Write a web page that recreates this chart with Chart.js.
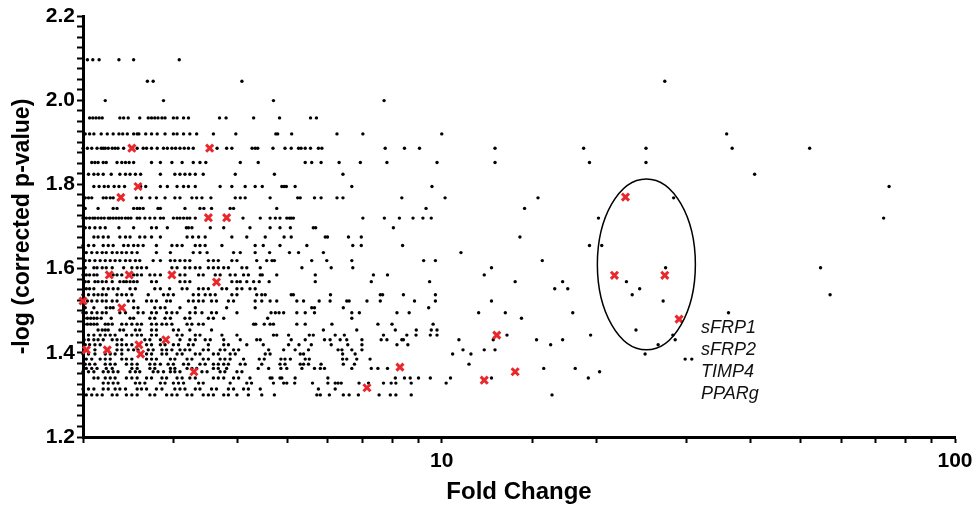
<!DOCTYPE html>
<html><head><meta charset="utf-8">
<script src="https://cdn.jsdelivr.net/npm/chart.js@4.4.1/dist/chart.umd.min.js"></script>
<style>html,body{margin:0;padding:0;background:#fff;}canvas{display:block;}</style>
</head><body>
<canvas id="c" width="973" height="509"></canvas>
<script>
// p-value levels (rows) of the black points: -log(corrected p-value)
const levels = [2.096,2.045,1.999,1.958,1.920,1.886,1.852,1.824,1.795,1.768,1.743,1.720,1.697,1.675,1.655,1.638,1.619,1.602,1.585,1.569,1.552,1.538,1.523,1.507,1.495,1.482,1.468,1.454,1.442,1.431,1.419,1.407,1.397,1.385,1.373,1.363,1.355,1.340,1.328,1.314,1.300];
// fold changes of the black points in each row
const r01=[2.04,2.09,2.15,2.35,2.51,3.08];
const r02=[2.67,2.74,4.08,27.2];
const r03=[2.21,2.87,4.70,7.72];
const r04=[2.06,2.09,2.12,2.15,2.18,2.36,2.40,2.45,2.58,2.68,2.72,2.76,2.80,2.85,2.89,3.00,3.05,3.14,3.21,3.69,3.80,4.30,4.83,5.55,5.70];
const r05=[2.02,2.06,2.10,2.17,2.23,2.29,2.35,2.39,2.44,2.51,2.55,2.57,2.65,2.72,2.79,2.89,3.00,3.05,3.14,3.23,3.33,3.59,3.97,4.75,4.79,5.10,6.25,7.02,10.0,35.9];
const r06=[2.00,2.04,2.08,2.13,2.17,2.19,2.21,2.24,2.28,2.31,2.34,2.40,2.55,2.62,2.66,2.72,2.79,2.87,2.92,2.98,3.03,3.09,3.15,3.21,3.28,3.65,3.81,3.90,4.27,4.33,4.38,4.69,4.95,5.09,5.26,5.32,5.42,5.55,5.75,5.84,7.76,8.46,9.05,12.7,18.9,25.0,36.8,52.1];
const r07=[2.08,2.11,2.14,2.19,2.22,2.33,2.38,2.42,2.46,2.51,2.72,2.83,2.98,3.12,3.28,3.38,3.47,4.05,4.39,5.42,5.58,5.82,6.31,6.94,7.82,9.79,12.7,19.4,25.0];
const r08=[2.05,2.10,2.14,2.19,2.27,2.36,2.42,2.47,2.53,2.59,2.83,3.02,3.09,3.16,3.23,3.31,3.43,3.96,4.72,6.42,40.7];
const r09=[2.10,2.15,2.20,2.24,2.30,2.35,2.41,2.59,2.65,2.83,2.92,3.05,3.14,3.21,3.31,3.70,3.90,4.14,4.33,4.47,4.88,4.93,4.98,5.18,6.68,9.57,74.4];
const r10=[2.02,2.05,2.08,2.19,2.22,2.26,2.29,2.54,2.60,2.70,2.78,2.89,3.02,3.09,3.26,3.33,3.41,3.55,3.96,4.05,4.14,4.63,5.24,5.30,5.65,5.82,6.25,6.42,8.36,10.15,15.4,28.3];
const r11=[2.02,2.14,2.29,2.33,2.51,2.55,2.58,2.62,2.80,2.83,3.16,3.38,3.44,3.56,3.87,3.93,4.77,9.32,14.5];
const r12=[2.00,2.03,2.06,2.09,2.11,2.14,2.17,2.20,2.24,2.26,2.29,2.32,2.35,2.38,2.42,2.45,2.48,2.55,2.58,2.64,2.70,2.76,2.83,2.87,3.00,3.05,3.09,3.14,3.19,3.23,3.31,4.10,4.43,4.63,4.74,4.84,4.99,5.05,5.09,5.14,7.02,7.73,8.27,8.79,9.19,9.54,20.2,72.6];
const r13=[2.02,2.06,2.11,2.16,2.21,2.35,2.51,2.72,2.78,2.92,3.18,3.21,3.26,3.54,3.76,4.23,4.63,4.84,5.07,5.62,5.68,8.05];
const r14=[2.10,2.14,2.19,2.24,2.36,2.42,2.47,2.58,2.64,2.72,2.83,3.19,3.27,3.36,3.46,3.90,4.17,4.53,4.93,5.09,5.93,5.99,6.58,6.97,14.2];
const r15=[2.00,2.05,2.10,2.19,2.24,2.29,2.40,2.45,2.51,2.56,2.62,2.78,2.98,3.05,3.12,3.31,3.38,3.46,3.73,4.33,4.49,4.84,5.46,6.71,6.97,8.39,19.4,20.5];
const r16=[2.03,2.08,2.13,2.18,2.22,2.28,2.33,2.38,2.43,2.49,2.55,2.78,2.96,3.28,3.38,3.49,3.93,4.05,4.33,4.62,5.05,5.26,5.88,10.9];
const r17=[2.02,2.06,2.11,2.16,2.21,2.26,2.31,2.36,2.42,2.47,2.53,2.58,2.74,2.83,2.96,3.02,3.09,3.16,3.23,3.51,3.59,3.67,3.90,3.99,4.36,4.56,4.67,4.72,5.58,5.97,6.68,9.22,9.72,15.7];
const r18=[2.02,2.10,2.13,2.18,2.22,2.28,2.40,2.49,2.55,2.60,2.66,2.98,3.05,3.16,3.23,3.31,3.38,3.51,3.59,3.67,3.76,3.84,4.08,4.17,4.43,5.34,6.09,6.71,12.5,27.3,54.7];
const r19=[2.00,2.03,2.06,2.10,2.13,2.29,2.33,2.38,2.51,2.55,2.60,2.70,2.76,2.83,3.09,3.16,3.36,3.43,3.62,3.70,3.87,3.96,4.11,4.20,4.43,4.47,4.77,5.67,7.36,7.84,12.1];
const r20=[2.02,2.05,2.11,2.14,2.18,2.22,2.28,2.36,2.40,2.43,2.47,2.51,2.55,2.72,2.78,3.09,3.16,3.23,3.90,3.99,4.05,4.17,4.30,4.41,4.61,5.67,7.29,9.47,13.9,17.2,22.9];
const r21=[2.03,2.06,2.10,2.19,2.24,2.29,2.34,2.47,2.53,2.76,2.83,2.95,3.12,3.19,3.36,3.43,3.51,3.73,3.81,3.99,4.08,4.23,4.33,16.6,17.6,24.3];
const r22=[2.00,2.05,2.10,2.14,2.18,2.22,2.33,2.38,2.43,2.49,2.68,2.87,2.93,3.00,3.28,3.36,3.46,3.54,3.62,3.90,3.99,4.36,4.46,4.53,5.09,5.14,6.07,7.59,7.67,8.42,9.72,23.5,57.1];
const r23=[2.04,2.08,2.13,2.18,2.22,2.28,2.33,2.45,2.51,2.66,2.72,2.78,2.91,2.96,3.21,3.28,3.36,3.43,3.56,3.64,3.84,3.93,4.33,4.46,4.63,4.77,5.22,5.38,5.77,6.06,6.53,6.60,7.15,7.59,8.85,9.72,12.5,27.0];
const r24=[2.02,2.10,2.22,2.26,2.29,2.51,2.56,2.76,2.83,2.89,3.09,3.31,3.81,4.33,5.58,5.65,6.43,9.43];
const r25=[2.00,2.03,2.08,2.13,2.18,2.22,2.36,2.42,2.56,2.62,2.72,2.78,2.91,2.98,3.05,3.23,3.31,3.41,3.56,3.64,3.99,4.65,4.74,4.82,4.92,5.22,5.42,5.65,6.68,6.91,8.18,8.64,11.8,13.3,18.0,36.2];
const r26=[2.01,2.04,2.07,2.10,2.13,2.17,2.27,2.47,2.51,2.70,2.76,2.89,2.96,3.16,3.23,3.51,3.59,3.76,4.58,6.68,14.3];
const r27=[2.01,2.04,2.07,2.10,2.13,2.21,2.24,2.28,2.38,2.43,2.49,2.55,2.60,2.72,2.78,2.85,2.91,2.98,3.19,3.26,3.36,3.43,4.30,4.34,4.51,4.63,4.70,5.22,5.42,6.11,7.51,8.00,9.62];
const r28=[2.14,2.18,2.21,2.24,2.36,2.40,2.53,2.58,2.72,2.78,3.00,3.07,3.23,3.56,5.88,6.83,8.12,8.92,9.54,9.79,23.9];
const r29=[2.05,2.10,2.16,2.21,2.26,2.31,2.43,2.49,2.55,2.60,2.72,2.78,3.05,3.12,3.31,3.38,3.73,3.99,4.70,4.77,5.03,5.52,5.62,6.20,6.46,7.70,8.55,8.91,9.50,9.79,13.4,19.5,28.2];
const r30=[2.01,2.05,2.10,2.14,2.19,2.28,2.33,2.38,2.64,2.70,2.83,3.09,3.23,3.31,3.46,3.54,3.76,4.05,4.36,4.43,5.09,5.42,5.91,6.06,6.34,6.53,6.99,7.62,7.82,8.36,8.42,10.8,12.6,15.3,17.2,28.5];
const r31=[2.02,2.06,2.11,2.16,2.33,2.38,2.43,2.49,2.66,2.72,2.83,2.89,3.00,3.07,3.21,3.28,3.51,3.76,3.84,4.17,4.49,5.03,5.27,5.57,6.09,6.56,6.99,8.18,8.59,16.3,26.4];
const r32=[2.11,2.33,2.38,2.45,2.51,2.56,2.68,2.74,2.85,2.91,2.98,3.09,3.16,3.23,3.43,3.51,3.70,3.78,3.93,4.02,4.60,4.92,5.18,5.50,6.28,6.39,6.68,6.99,11.0,12.1,12.7];
const r33=[2.00,2.05,2.11,2.21,2.26,2.31,2.38,2.66,2.72,2.85,2.91,3.05,3.12,3.31,3.38,3.59,3.67,3.87,3.96,4.53,4.63,5.30,5.38,6.41,6.78,10.5,11.4,24.9];
const r34=[2.03,2.08,2.16,2.21,2.26,2.38,2.43,2.49,2.66,2.72,2.78,2.96,3.02,3.19,3.26,3.43,3.51,3.70,3.78,3.87,4.11,4.41,4.51,4.86,4.95,5.07,5.42,5.52,6.41,6.53,6.83,7.25,29.8,30.7];
const r35=[2.02,2.06,2.11,2.21,2.26,2.31,2.43,2.49,2.55,2.70,2.76,2.83,2.93,3.00,3.14,3.21,3.38,3.46,3.59,3.67,3.76,3.84,4.05,4.14,4.46,4.84,4.95,5.30,5.38,5.50,5.82,6.43,6.76,11.3];
const r36=[2.03,2.08,2.13,2.22,2.28,2.49,2.55,2.70,2.76,2.96,3.02,3.19,3.26,3.33,3.59,3.67,3.81,4.39,4.60,4.86,4.99,5.34,5.65,5.80,5.91,6.68,7.29,7.51,7.84,15.8,18.2];
const r37=[2.00,2.05,2.10,2.19,2.24,2.29,2.34,2.47,2.53,2.58,2.74,2.80,2.87,2.96,3.02,3.09,3.41,3.49,3.70,3.78,3.99,4.08,20.3];
const r38=[2.10,2.14,2.21,2.26,2.31,2.43,2.49,2.55,2.66,2.72,2.85,2.91,3.05,3.12,3.23,3.31,3.59,3.67,3.76,3.93,4.02,4.23,4.63,4.67,4.84,4.88,5.18,6.00,8.12,8.46,8.68,9.01,9.50,10.4,12.5,19.3];
const r39=[2.19,2.24,2.29,2.34,2.53,2.58,2.64,2.83,2.89,3.00,3.07,3.14,3.36,3.43,3.87,4.17,4.26,4.70,4.92,4.99,5.17,5.60,6.00,6.20,6.28,6.37,6.90,7.20,7.70,7.97,8.14,8.72,10.2];
const r40=[2.00,2.05,2.10,2.19,2.24,2.31,2.36,2.42,2.55,2.60,2.66,2.78,2.85,3.02,3.09,3.16,3.31,3.38,3.56,3.64,3.84,3.93,4.11,4.20,4.43,5.75,6.20];
const r41=[2.03,2.08,2.13,2.18,2.28,2.33,2.43,2.49,2.55,2.70,2.76,2.91,2.98,3.05,3.19,3.26,3.43,3.51,3.59,3.76,3.84,3.99,4.20,4.46,4.72,5.71,5.80,6.04,6.43,6.60,6.88,7.55,7.94,8.14,8.72,16.4];
const rowFC=[r01,r02,r03,r04,r05,r06,r07,r08,r09,r10,r11,r12,r13,r14,r15,r16,r17,r18,r19,r20,r21,r22,r23,r24,r25,r26,r27,r28,r29,r30,r31,r32,r33,r34,r35,r36,r37,r38,r39,r40,r41];

// highlighted genes (red crosses)
const redFC=[2.49,3.53,2.56,2.37,3.51,3.81,2.25,2.46,2.98,3.64,2.00,2.38,2.90,2.57,2.03,2.23,2.59,3.29,7.15,8.29,12.1,12.8,13.9,21.7,22.8,27.2,29.0];
const redP=[1.886,1.886,1.795,1.769,1.721,1.721,1.585,1.585,1.585,1.568,1.523,1.507,1.431,1.419,1.407,1.407,1.397,1.355,1.317,1.366,1.335,1.442,1.355,1.584,1.770,1.584,1.480];

// annotation: ellipse bounds (fold change left/right, p bottom/top) and gene labels
const ellipseFC=[20.1,31.2];
const ellipseP=[1.407,1.813];
const geneLabels=['sFRP1','sFRP2','TIMP4','PPARg'];
const geneLabelFC=32;
const geneLabelP=[1.459,1.407,1.355,1.302];

const xLabeled=[10,100];
const yLabeled=[1.2,1.4,1.6,1.8,2.0,2.2];

const blackPts=[];
rowFC.forEach((arr,i)=>arr.forEach(fc=>blackPts.push({x:fc,y:levels[i]})));
const redPts=redFC.map((fc,i)=>({x:fc,y:redP[i]}));

const FONT='"Liberation Sans", Arial, Helvetica, sans-serif';

const annot={
  id:'annot',
  afterDatasetsDraw(chart){
    const {ctx,scales:{x,y}}=chart;
    const x1=x.getPixelForValue(ellipseFC[0]), x2=x.getPixelForValue(ellipseFC[1]);
    const y1=y.getPixelForValue(ellipseP[0]), y2=y.getPixelForValue(ellipseP[1]);
    ctx.save();
    ctx.beginPath();
    ctx.ellipse((x1+x2)/2,(y1+y2)/2,Math.abs(x2-x1)/2,Math.abs(y1-y2)/2,0,0,Math.PI*2);
    ctx.lineWidth=1.5; ctx.strokeStyle='#000'; ctx.stroke();
    ctx.fillStyle='#111';
    ctx.font='italic 18px '+FONT;
    ctx.textAlign='left'; ctx.textBaseline='middle';
    const lx=x.getPixelForValue(geneLabelFC);
    geneLabels.forEach((t,i)=>ctx.fillText(t,lx,y.getPixelForValue(geneLabelP[i])));
    ctx.restore();
  }
};

new Chart(document.getElementById('c'),{
  type:'scatter',
  data:{datasets:[
    {data:redPts,pointStyle:'crossRot',pointRadius:5,borderColor:'#e8282c',backgroundColor:'#e8282c',borderWidth:3,order:0,clip:false},
    {data:blackPts,pointStyle:'circle',pointRadius:1.7,backgroundColor:'#000',borderColor:'#000',borderWidth:0,order:1,clip:false}
  ]},
  options:{
    responsive:false,animation:false,devicePixelRatio:1,
    events:[],
    layout:{padding:{top:16,right:18,left:0,bottom:0}},
    plugins:{legend:{display:false},tooltip:{enabled:false}},
    scales:{
      x:{type:'logarithmic',min:2,max:100,
        afterFit(s){s.height=72;s.paddingRight=0;s.paddingLeft=0;},
        border:{display:true,color:'#000',width:3},
        grid:{display:true,drawOnChartArea:false,drawTicks:true,tickLength:6,tickWidth:2,tickColor:'#000',color:'#000'},
        ticks:{autoSkip:false,maxRotation:0,padding:6,color:'#000',font:{family:FONT,size:21,weight:'bold'},
          callback:(v)=>xLabeled.includes(v)?String(v):''},
        title:{display:true,text:'Fold Change',color:'#000',font:{family:FONT,size:24,weight:'bold',lineHeight:1},padding:{top:0,bottom:5}}
      },
      y:{min:1.2,max:2.2,
        afterFit(s){s.width=83;s.paddingTop=0;s.paddingBottom=0;},
        border:{display:true,color:'#000',width:3},
        grid:{display:true,drawOnChartArea:false,drawTicks:true,tickLength:6,tickWidth:2,tickColor:'#000',color:'#000'},
        ticks:{stepSize:0.025,autoSkip:false,padding:2,color:'#000',font:{family:FONT,size:21,weight:'bold'},
          callback:(v)=>{const m=yLabeled.find(t=>Math.abs(t-v)<1e-6);return m!==undefined?m.toFixed(1):'';}},
        title:{display:true,text:'-log (corrected p-value)',color:'#000',font:{family:FONT,size:23,weight:'bold',lineHeight:1},padding:{top:11,bottom:0}}
      }
    }
  },
  plugins:[annot]
});
</script>
</body></html>
